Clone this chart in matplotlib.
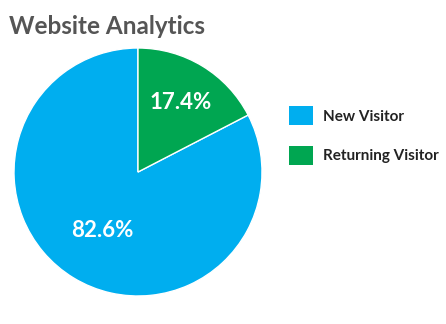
import numpy as np
import matplotlib
matplotlib.use("Agg")
import matplotlib.pyplot as plt

categories = ["New Visitor", "Returning Visitor"]
values = [82.6, 17.4]
colors = ["#00AEEF", "#00A651"]
title = "Website Analytics"

W, H = 446, 324
fig = plt.figure(figsize=(W / 100, H / 100), dpi=100)
ax = fig.add_axes([14 / W, (H - 296) / H, 248 / W, 248 / H])

wedges, _ = ax.pie(values, colors=colors, startangle=90, counterclock=True,
                   wedgeprops=dict(edgecolor="white", linewidth=1.0), radius=1.0)
ax.set_xlim(-1, 1)
ax.set_ylim(-1, 1)
ax.set_aspect("equal")
ax.axis("off")

# percentage labels
dists = [0.55, 0.66]
for w, v, d in zip(wedges, values, dists):
    ang = np.deg2rad((w.theta1 + w.theta2) / 2)
    ax.text(d * np.cos(ang), d * np.sin(ang), f"{v:.1f}%", color="white",
            fontsize=16, fontweight="bold", ha="center", va="center",
            family=["Lato", "DejaVu Sans"])

fig.text(9 / W, 1 - 26 / H, title, fontsize=17.5, fontweight="bold", color="#555555",
         ha="left", va="center", family=["Lato", "DejaVu Sans"])

leg = fig.legend(wedges, categories, loc="upper left",
                 bbox_to_anchor=(289 / W, 1 - 106 / H), frameon=False,
                 prop=dict(family=["Lato", "DejaVu Sans"], weight="bold", size=11),
                 handlelength=1.55, handleheight=1.55, labelspacing=1.35,
                 handletextpad=0.7, borderaxespad=0, borderpad=0)
for t in leg.get_texts():
    t.set_color("#222222")
for h in leg.legend_handles:
    h.set_edgecolor("none")

fig.savefig("out.png", dpi=100)
